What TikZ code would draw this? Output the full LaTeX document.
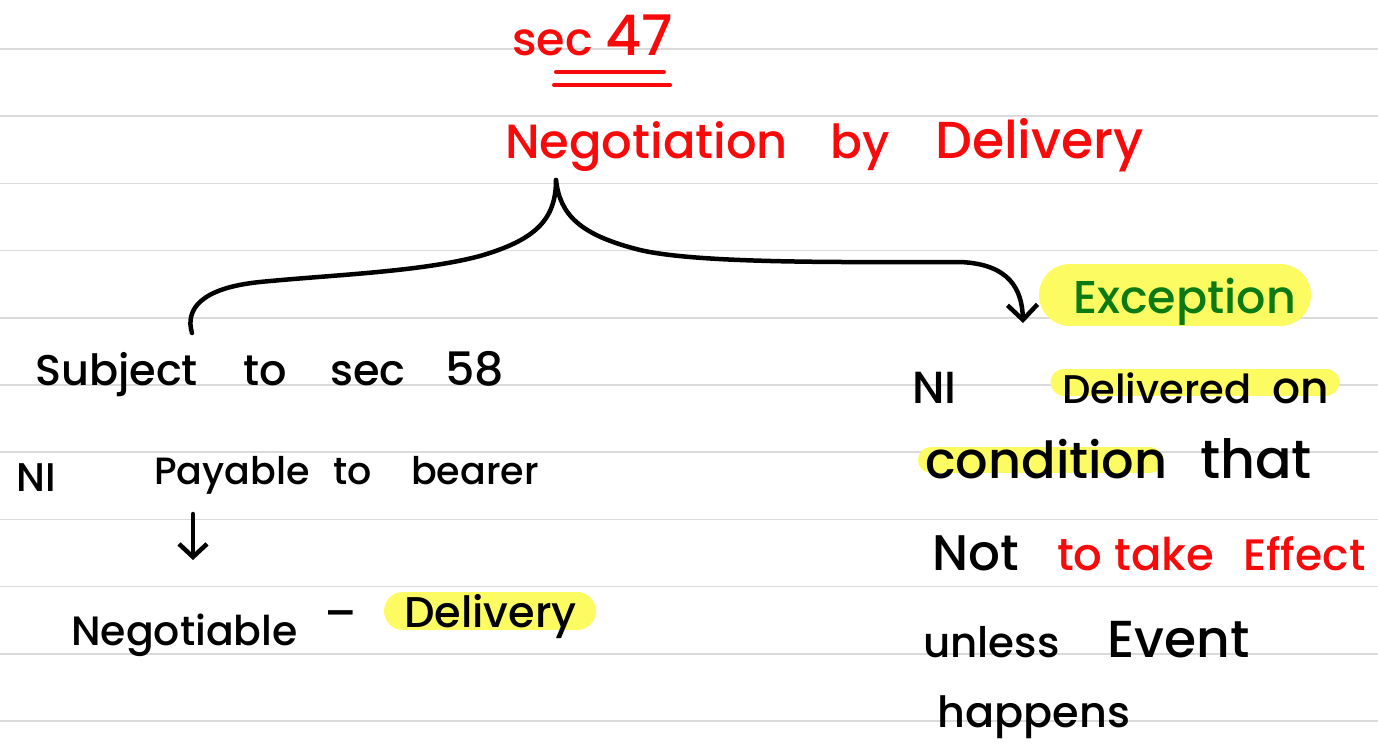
\documentclass[tikz,border=0pt]{standalone}
\usepackage{fontspec}
\setmainfont{Poppins}[UprightFont=* Medium]
\usepackage{tikz}
\usetikzlibrary{arrows.meta}
\definecolor{pen}{HTML}{000000}
\definecolor{redpen}{HTML}{F80A0A}
\definecolor{greenpen}{HTML}{0B7A14}
\definecolor{marker}{HTML}{FCFC62}
\definecolor{ruled}{HTML}{DADADA}

\begin{document}
\begin{tikzpicture}[
  x=1pt, y=-1pt,
  word/.style={anchor=base west, inner sep=0pt, text=pen, font=\fontsize{#1}{#1}\selectfont},
  word/.default=46,
  redword/.style={word=#1, text=redpen},
  redword/.default=46,
  hl/.style={draw=marker, line cap=round, line width=#1},
  ruledline/.style={draw=ruled, line width=1.6pt},
  pen/.style={draw=pen, line width=4.5pt, line cap=round},
  arr/.style={pen, -{Straight Barb[length=15pt, width=30pt]}}
]
  \useasboundingbox (0,0) rectangle (1378,749);
  \fill[white] (0,0) rectangle (1378,749);
  \foreach \k in {0,...,10}
    \draw[ruledline] (0,49+67.2*\k) -- (1378,49+67.2*\k);

  % marker strokes
  \draw[hl=62] (1070,295) -- (1280,295);
  \draw[hl=27] (1064,382) -- (1326,382);
  \draw[hl=26] (931,460) -- (1150,460);
  \draw[hl=38] (403,611) -- (577,611);

  % heading
  \node[redword=46] (sec) at (512,56) {sec};
  \node[redword=56] (s47) at (605,56) {47};
  \draw[pen, draw=redpen, line width=4pt] (556,72) -- (664,72);
  \draw[pen, draw=redpen, line width=4pt] (554,85) -- (670,85);
  \node[redword=48] (neg) at (505,158) {Negotiation};
  \node[redword=47] (by) at (830,158) {by};
  \node[redword=52] (del) at (935,158) {Delivery};

  % left side
  \node[word=43] (subj) at (35,385) {Subject};
  \node[word=43] (to1) at (243,385) {to};
  \node[word=43] (sec58) at (330,385) {sec};
  \node[word=46] (n58) at (445,385) {58};
  \node[word=40] (ni1) at (16,491) {NI};
  \node[word=38] (pay) at (154,484) {Payable};
  \node[word=38] (to2) at (333,484) {to};
  \node[word=38] (bear) at (411,484) {bearer};
  \node[word=41] (negbl) at (71,645) {Negotiable};
  \node[word=46] (dash) at (324,629) {–};
  \node[word=43] (del2) at (404,627) {Delivery};

  % right side
  \node[word=46, text=greenpen] (exc) at (1073,313) {Exception};
  \node[word=45] (ni2) at (912,403) {NI};
  \node[word=40] (dlvd) at (1062,403) {Delivered};
  \node[word=44] (on) at (1272,403) {on};
  \node[word=51] (cond) at (925,478) {condition};
  \node[word=54] (that) at (1200,478) {that};
  \node[word=50] (not) at (932,570) {Not};
  \node[redword=45] (take) at (1057,570) {to take};
  \node[redword=44] (eff) at (1243,570) {Effect};
  \node[word=42] (unl) at (923,657) {unless};
  \node[word=52] (evt) at (1107,657) {Event};
  \node[word=43] (hap) at (937,727) {happens};

  % brace
  \coordinate (fork) at (556,180);
  \coordinate (lend) at (192,333);
  \coordinate (rend) at (1023,323);
  \draw[pen] (fork) .. controls (556,220) and (535,240) .. (480,256)
    .. controls (420,272) and (330,275) .. (260,282)
    .. controls (200,288) and (185,310) .. (lend);
  \draw[arr] (fork) .. controls (560,215) and (580,235) .. (640,250)
    .. controls (700,264) and (850,262) .. (960,262)
    .. controls (1010,264) and (1022,290) .. (rend);

  \coordinate (a1) at (193,514);
  \coordinate (a2) at (193,560);
  \draw[arr, -{Straight Barb[length=13pt, width=28pt]}] (a1) -- (a2);
\end{tikzpicture}
\end{document}
